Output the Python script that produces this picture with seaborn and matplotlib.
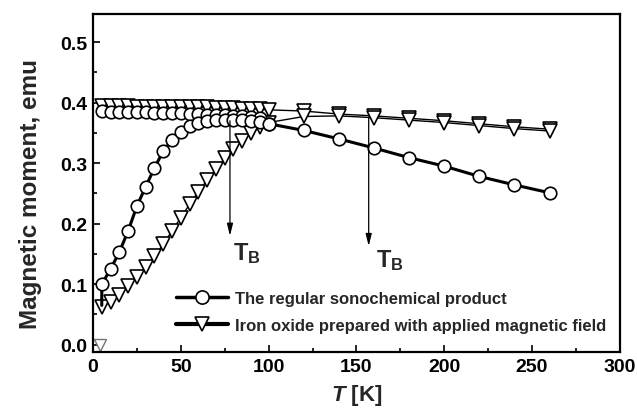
import matplotlib
matplotlib.use("Agg")
import matplotlib.pyplot as plt
import seaborn as sns
from matplotlib.lines import Line2D
from matplotlib.ticker import MultipleLocator

# ---------------- data ----------------
circ_zfc_T = [5, 5, 10, 15, 20, 25, 30, 35, 40, 45, 50, 55, 60, 65, 70, 75, 80, 85, 90, 95, 100,
              120, 140, 160, 180, 200, 220, 240, 260]
circ_zfc_M = [0.065, 0.100, 0.125, 0.153, 0.188, 0.229, 0.261, 0.292, 0.320, 0.338, 0.351, 0.361,
              0.367, 0.370, 0.371, 0.372, 0.372, 0.371, 0.370, 0.368, 0.365,
              0.354, 0.340, 0.325, 0.309, 0.295, 0.278, 0.264, 0.251]

circ_fc_T = [5, 10, 15, 20, 25, 30, 35, 40, 45, 50, 55, 60, 65, 70, 75, 80, 85, 90, 95, 100]
circ_fc_M = [0.386, 0.385, 0.385, 0.384, 0.384, 0.384, 0.383, 0.383, 0.382, 0.382, 0.381,
             0.381, 0.380, 0.380, 0.379, 0.378, 0.377, 0.376, 0.375, 0.365]

tri_fc_T = [5, 10, 15, 20, 25, 30, 35, 40, 45, 50, 55, 60, 65, 70, 75, 80, 85, 90, 95, 100,
            120, 140, 160, 180, 200, 220, 240, 260]
tri_fc_M = [0.394, 0.394, 0.394, 0.394, 0.393, 0.393, 0.393, 0.393, 0.393, 0.392, 0.392,
            0.392, 0.392, 0.391, 0.391, 0.391, 0.390, 0.390, 0.389, 0.388,
            0.386, 0.381, 0.378, 0.374, 0.370, 0.365, 0.360, 0.356]

tri_zfc_T = [5, 10, 15, 20, 25, 30, 35, 40, 45, 50, 55, 60, 65, 70, 75, 80, 85, 90, 95, 100,
             120, 140, 160, 180, 200, 220, 240, 260]
tri_zfc_M = [0.062, 0.071, 0.082, 0.097, 0.112, 0.128, 0.146, 0.166, 0.188, 0.210, 0.232,
             0.253, 0.272, 0.290, 0.308, 0.323, 0.337, 0.349, 0.359, 0.367,
             0.377, 0.378, 0.375, 0.371, 0.367, 0.362, 0.357, 0.353]

tri_zero_T = [4]
tri_zero_M = [0.0]

tb_T = [78, 157]
tb_top = [0.370, 0.376]
tb_tip = [0.180, 0.163]
tb_label_T = [79.5, 161]
tb_label_M = [0.153, 0.141]

legend_labels = ["The regular sonochemical product",
                 "Iron oxide prepared with applied magnetic field"]

# ---------------- style ----------------
sns.set_theme(style="ticks")
plt.rcParams['font.family'] = ['Liberation Sans', 'DejaVu Sans']
plt.rcParams['font.weight'] = 'bold'
plt.rcParams['mathtext.fontset'] = 'custom'
plt.rcParams['mathtext.rm'] = 'Liberation Sans:bold'
plt.rcParams['mathtext.bf'] = 'Liberation Sans:bold'
plt.rcParams['mathtext.it'] = 'Liberation Sans:bold:italic'
plt.rcParams['mathtext.bfit'] = 'Liberation Sans:bold:italic'

fig = plt.figure(figsize=(6.37, 4.10), dpi=100)
ax = fig.add_axes([0.146, 0.139, 0.827, 0.824])

mk = dict(markerfacecolor='white', markeredgecolor='black', color='black')

sns.lineplot(x=tri_fc_T, y=tri_fc_M, sort=False, estimator=None, ax=ax, lw=1.0,
             marker='v', markersize=9.5, markeredgewidth=1.2, **mk)
sns.lineplot(x=tri_zfc_T, y=tri_zfc_M, sort=False, estimator=None, ax=ax, lw=1.0,
             marker='v', markersize=9.5, markeredgewidth=1.2, **mk)
sns.lineplot(x=circ_fc_T, y=circ_fc_M, sort=False, estimator=None, ax=ax, lw=1.8,
             marker='o', markersize=9, markeredgewidth=1.2, **mk)
sns.lineplot(x=circ_zfc_T, y=circ_zfc_M, sort=False, estimator=None, ax=ax, lw=2.2,
             marker='o', markersize=9, markeredgewidth=1.2,
             markevery=list(range(1, len(circ_zfc_T))), **mk)
ax.plot(tri_zero_T, tri_zero_M, ls='none', marker='v', markersize=9,
        markerfacecolor='white', markeredgecolor='0.45', markeredgewidth=1.0, clip_on=False)

for t, y0, y1 in zip(tb_T, tb_top, tb_tip):
    ax.annotate('', xy=(t, y1), xytext=(t, y0),
                arrowprops=dict(arrowstyle='-|>,head_length=0.6,head_width=0.15',
                                lw=0.9, color='black', shrinkA=0, shrinkB=0))
for t, m in zip(tb_label_T, tb_label_M):
    ax.text(t, m, r'$\mathbf{T}_{\mathbf{B}}$', fontsize=17, va='center', ha='left')

ax.set_xlim(0, 300)
ax.set_ylim(-0.012, 0.546)
ax.xaxis.set_major_locator(MultipleLocator(50))
ax.xaxis.set_minor_locator(MultipleLocator(25))
ax.yaxis.set_minor_locator(MultipleLocator(0.05))
ax.set_yticks([0.0, 0.1, 0.2, 0.3, 0.4, 0.5])
ax.set_yticklabels(['0.0', '0.1', '0.2', '0.3', '0.4', '0.5'])
ax.tick_params(which='both', direction='in', top=False, right=False, width=1.2,
               labelsize=14, colors='black')
ax.tick_params(which='major', length=5, pad=4)
ax.tick_params(which='minor', length=3)
for lab in ax.get_xticklabels() + ax.get_yticklabels():
    lab.set_fontweight('bold')
for s in ax.spines.values():
    s.set_linewidth(1.6)
    s.set_color('black')
    s.set_visible(True)

ax.set_xlabel(r'$\mathbfit{T}$ [K]', fontsize=16, fontweight='bold', labelpad=5)
ax.set_ylabel('Magnetic moment, emu', fontsize=17.5, fontweight='bold')
ax.yaxis.set_label_coords(-0.097, 0.47)

handles = [Line2D([], [], color='black', lw=2.5, marker='o', markersize=9.5,
                  markerfacecolor='white', markeredgecolor='black', markeredgewidth=1.2),
           Line2D([], [], color='black', lw=3.0, marker='v', markersize=9.5,
                  markerfacecolor='white', markeredgecolor='black', markeredgewidth=1.2)]
ax.legend(handles, legend_labels, loc='lower left', bbox_to_anchor=(0.13, 0.012),
          frameon=False, handlelength=3.1, handletextpad=0.4,
          labelspacing=0.72, prop={'weight': 'bold', 'size': 12})

fig.savefig('out.png', dpi=100, facecolor='white')
